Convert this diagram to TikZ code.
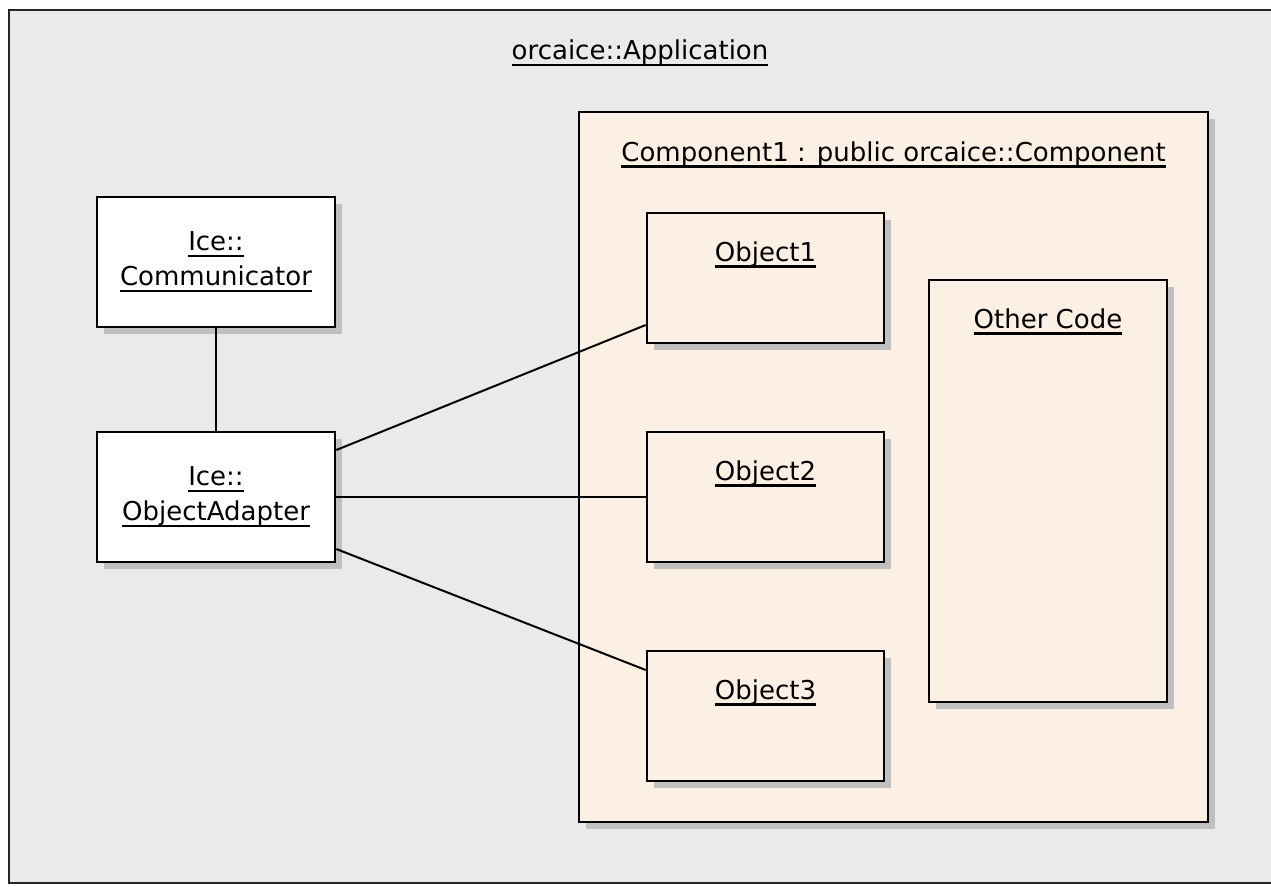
\documentclass[tikz,border=0pt]{standalone}
\usepackage{fontspec}
\setmainfont{DejaVu Sans}
\usetikzlibrary{shadows}

\definecolor{framebg}{HTML}{EAEAEA}
\definecolor{compbg}{HTML}{FBF0E3}
\definecolor{shade}{HTML}{C0C0C0}
% underlined object names
\newcommand{\uln}[1]{\setbox0\hbox{#1}\rlap{\rule[-6pt]{\wd0}{2.2pt}}\box0}

\begin{document}
\begin{tikzpicture}[x=1pt,y=-1pt]

\tikzset{obj/.style = {shape=rectangle,draw=black,line width=2.6pt,fill=white,
  font=\fontsize{26}{35}\selectfont,align=center,
  drop shadow={shadow xshift=7pt,shadow yshift=-7pt,fill=shade,opacity=1}}}
\tikzset{part/.style = {obj,fill=compbg,minimum width=237pt,minimum height=130pt}}
\tikzset{title/.style = {font=\fontsize{26}{35}\selectfont,inner sep=0pt,anchor=north}}
\tikzset{edge/.style = {line width=2pt}}

\useasboundingbox (0,0) rectangle (1271,886);
\clip (0,0) rectangle (1271,886);
% application frame
\draw[line width=2.8pt,draw=black!85,fill=framebg] (9,10) rectangle (1300,883);
\node[title] (app) at (640,40) {\uln{orcaice::Application}};
% component
\node[obj,fill=compbg,minimum width=629pt,minimum height=710pt,
  label={[title,yshift=-31pt]north:\uln{Component1 : public orcaice::Component}}]
  (comp) at (893.5,467) {};
% objects
\node[part,label={[title,yshift=-30pt]north:\uln{Object1}}] (obj1) at (765.5,278) {};
\node[part,label={[title,yshift=-30pt]north:\uln{Object2}}] (obj2) at (765.5,497) {};
\node[part,label={[title,yshift=-30pt]north:\uln{Object3}}] (obj3) at (765.5,716) {};
\node[part,minimum width=238pt,minimum height=422pt,
  label={[title,yshift=-30pt]north:\uln{Other Code}}] (other) at (1048,491) {};
% ice side
\node[obj,minimum width=238pt,minimum height=130pt] (comm) at (216,262)
  {\uln{Ice::}\\\uln{Communicator}};
\node[obj,minimum width=238pt,minimum height=130pt] (adapt) at (216,497)
  {\uln{Ice::}\\\uln{ObjectAdapter}};
% links
\draw[edge] (comm) -- (adapt);
\draw[edge] ([yshift=47pt]adapt.east) -- ([yshift=-47pt]obj1.west);
\draw[edge] (adapt.east) -- (obj2.west);
\draw[edge] ([yshift=-52pt]adapt.east) -- ([yshift=46pt]obj3.west);
\end{tikzpicture}
\end{document}
